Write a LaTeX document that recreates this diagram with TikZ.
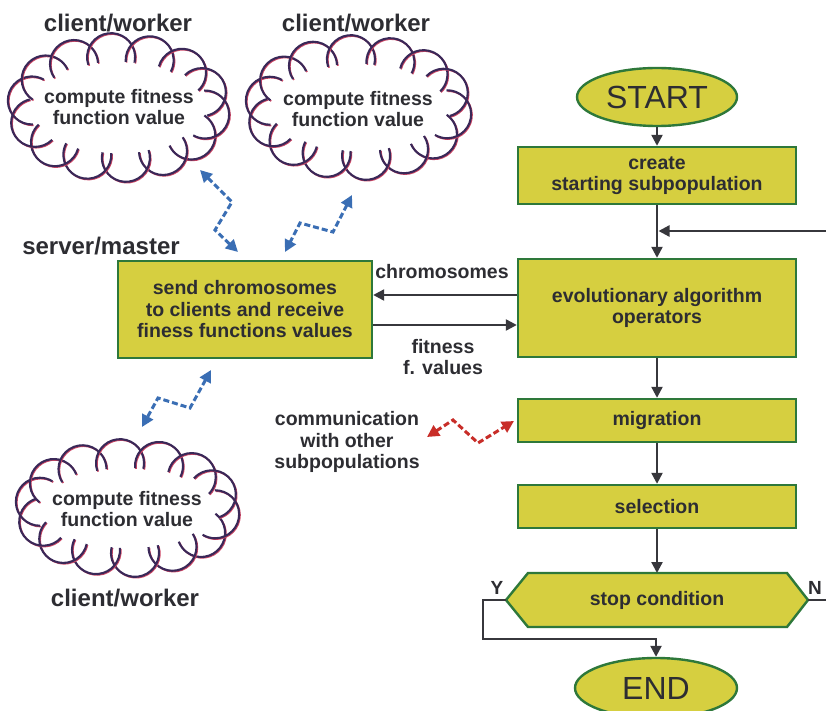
\documentclass[tikz,border=0pt]{standalone}
\usepackage{fontspec}
\setmainfont{Liberation Sans}
\usetikzlibrary{arrows.meta,shapes.geometric,calc}
\definecolor{boxfill}{RGB}{214,207,64}
\definecolor{boxline}{RGB}{46,120,58}
\definecolor{txt}{RGB}{45,45,50}
\definecolor{conn}{RGB}{55,55,60}
\definecolor{cloudnavy}{RGB}{58,40,88}
\definecolor{cloudred}{RGB}{205,70,100}
\definecolor{zigblue}{RGB}{58,110,180}
\definecolor{zigred}{RGB}{200,45,40}
% cx cy a b n r
\newcommand\cloudpuffs[6]{%
  \foreach \cpI in {1,...,#5}{%
    \pgfmathsetmacro\cpT{360*\cpI/#5+8}%
    \pgfmathsetmacro\cpPh{atan2((#3)*sin(\cpT),(#4)*cos(\cpT))}%
    \pgfmathsetmacro\cpX{#1+(#3)*cos(\cpT)}%
    \pgfmathsetmacro\cpY{#2+(#4)*sin(\cpT)}%
    \draw[cloudshadow] (\cpX+0.9,\cpY+0.9) ++(\cpPh-106:#6) arc[start angle=\cpPh-106, end angle=\cpPh+106, radius=#6];
    \draw[cloudline] (\cpX,\cpY) ++(\cpPh-106:#6) arc[start angle=\cpPh-106, end angle=\cpPh+106, radius=#6];
  }%
}
\begin{document}
\begin{tikzpicture}[x=1pt,y=-1pt,
  box/.style={draw=boxline, fill=boxfill, line width=2.4pt, text=txt,
    font=\bfseries\fontsize{19.5}{21.5}\selectfont, align=center, inner sep=0pt,
    minimum width=278pt},
  term/.style={ellipse, draw=boxline, fill=boxfill, line width=2.4pt, text=txt,
    font=\fontsize{32}{34}\selectfont, inner sep=0pt},
  lbl/.style={text=txt, font=\bfseries\fontsize{19.5}{21.5}\selectfont, align=center, inner sep=0pt},
  head/.style={text=txt, font=\bfseries\fontsize{24}{26}\selectfont, inner sep=0pt},
  arr/.style={draw=conn, line width=2.3pt, -{Triangle[length=11pt,width=11pt]}},
  ln/.style={draw=conn, line width=2.3pt},
  cloudline/.style={draw=cloudnavy, line width=2.1pt},
  cloudshadow/.style={draw=cloudred, line width=1.6pt},
  bluezig/.style={draw=zigblue, line width=3pt, dash pattern=on 6pt off 3pt,
    {Triangle[length=12pt,width=12pt]}-{Triangle[length=12pt,width=12pt]}},
  redzig/.style={draw=zigred, line width=3pt, dash pattern=on 6pt off 3pt,
    {Triangle[length=12pt,width=12pt]}-{Triangle[length=12pt,width=12pt]}},
]
\useasboundingbox (0,0) rectangle (826,711);
\fill[white] (0,0) rectangle (826,711);

% ---------- clouds ----------
\cloudpuffs{118.5}{107.5}{87.5}{50.5}{14}{24}
\cloudpuffs{358.5}{107.5}{89.5}{48.5}{14}{24}
\cloudpuffs{127.5}{508}{88.5}{45}{14}{24}

\node[lbl] (c1) at (119,107) {compute fitness\\function value};
\node[lbl] (c2) at (358,109) {compute fitness\\function value};
\node[lbl] (c3) at (127,509) {compute fitness\\function value};

\node[head] (h1) at (118,23) {client/worker};
\node[head] (h2) at (356,23) {client/worker};
\node[head] (h3) at (125,598) {client/worker};
\node[head] (hs) at (101,246) {server/master};

% ---------- flowchart ----------
\node[term, minimum width=160pt, minimum height=58pt] (start) at (657,97) {START};
\node[box, minimum height=57pt] (create) at (657,175.5) {create\\starting subpopulation};
\node[box, minimum height=98pt] (evol) at (657,308) {evolutionary algorithm\\operators};
\node[box, minimum height=43pt] (migr) at (657,420.5) {migration};
\node[box, minimum height=43pt] (sel) at (657,506.5) {selection};

\coordinate (stopL) at (506,600);
\coordinate (stopR) at (808,600);
\filldraw[draw=boxline, fill=boxfill, line width=2.4pt, line join=miter]
  (stopL) -- (528,573) -- (787,573) -- (stopR) -- (787,627) -- (528,627) -- cycle;
\node[lbl] (stop) at (657,600) {stop condition};
\node[term, minimum width=162pt, minimum height=60pt] (end) at (656,688) {END};

\node[box, minimum width=254pt, minimum height=97pt] (server) at (245,309.5)
  {send chromosomes\\to clients and receive\\finess functions values};

% connectors
\draw[arr] (start.south) -- (create.north);
\draw[arr] (create.south) -- (evol.north);
\coordinate (loopin) at (826,231);
\coordinate (merge) at (658.5,231);
\draw[arr] (loopin) -- (merge);
\draw[arr] (evol.south) -- (migr.north);
\draw[arr] (migr.south) -- (sel.north);
\draw[arr] (sel.south) -- (657,573);
\coordinate (nout) at (826,600);
\draw[ln] (stopR) -- (nout);
\coordinate (ycorner) at (483,639);
\draw[arr] (stopL) -- (483,600) -- (ycorner) -- (656,639) -- (end.north);
\node[lbl, font=\bfseries\fontsize{19}{21}\selectfont] (ylab) at (497,588) {Y};
\node[lbl, font=\bfseries\fontsize{19}{21}\selectfont] (nlab) at (815,588) {N};

\draw[arr] ([yshift=13pt]evol.west) -- ([yshift=14.5pt]server.east);
\draw[arr] ([yshift=-15.5pt]server.east) -- ([yshift=-17pt]evol.west);
\node[lbl] (chrom) at (442,272) {chromosomes};
\node[lbl] (fit) at (443,357) {fitness\\f. values};
\node[lbl] (comm) at (347,442) {communication\\with other\\subpopulations};

% dashed zigzags
\coordinate (b1a) at (200,170); \coordinate (b1b) at (232,202);
\coordinate (b1c) at (215,230); \coordinate (b1d) at (238,252);
\draw[bluezig] (b1a) -- (b1b) -- (b1c) -- (b1d);
\coordinate (b2a) at (352,195); \coordinate (b2b) at (333,232);
\coordinate (b2c) at (300,223); \coordinate (b2d) at (285,252);
\draw[bluezig] (b2a) -- (b2b) -- (b2c) -- (b2d);
\coordinate (b3a) at (211,370); \coordinate (b3b) at (190,408);
\coordinate (b3c) at (158,398); \coordinate (b3d) at (142,427);
\draw[bluezig] (b3a) -- (b3b) -- (b3c) -- (b3d);
\coordinate (r1a) at (427,437); \coordinate (r1b) at (453,420);
\coordinate (r1c) at (478,443); \coordinate (r1d) at (514,421);
\draw[redzig] (r1a) -- (r1b) -- (r1c) -- (r1d);
\end{tikzpicture}
\end{document}
